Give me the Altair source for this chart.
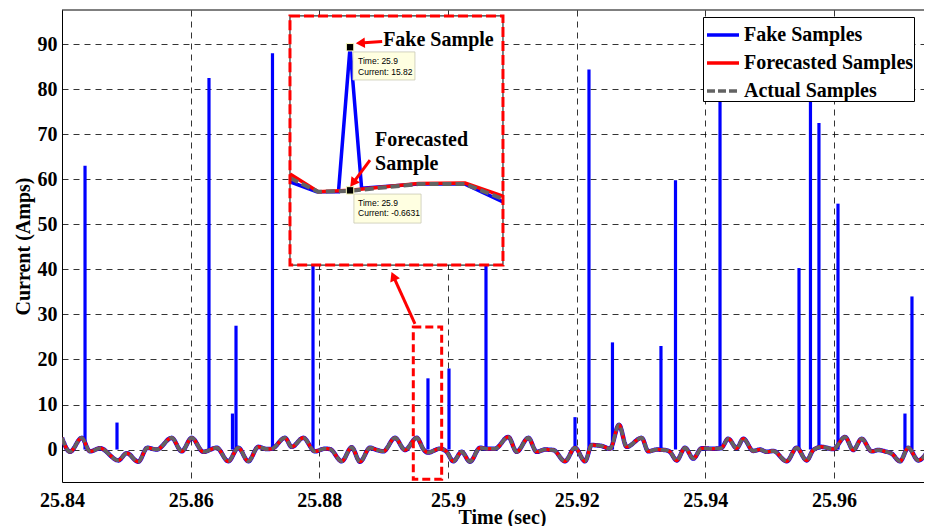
import altair as alt
import pandas as pd

# ---------------- main traces ----------------
base_t = [25.84000, 25.84124, 25.84306, 25.84435, 25.84591, 25.84875, 25.85006, 25.85186,
          25.85326, 25.85472, 25.85705, 25.85861, 25.86016, 25.86197, 25.86405, 25.86585,
          25.86741, 25.86896, 25.87051, 25.87187, 25.87264, 25.87466, 25.87571, 25.87751,
          25.87933, 25.88088, 25.88166, 25.88348, 25.88503, 25.88632, 25.88788, 25.88897,
          25.88995, 25.89176, 25.89332, 25.89514, 25.89627, 25.89689, 25.89876, 25.89980,
          25.90083, 25.90213, 25.90342, 25.90498, 25.90607, 25.90731, 25.90938, 25.91068,
          25.91249, 25.91379, 25.91508, 25.91637, 25.91819, 25.91975, 25.92130, 25.92234,
          25.92390, 25.92519, 25.92659, 25.92778, 25.93011, 25.93114, 25.93245, 25.93374,
          25.93451, 25.93555, 25.93685, 25.93814, 25.93944, 25.94104, 25.94244, 25.94358,
          25.94488, 25.94591, 25.94746, 25.94850, 25.94955, 25.95057, 25.95265, 25.95421,
          25.95576, 25.95679, 25.95809, 25.95990, 25.96172, 25.96301, 25.96431, 25.96587,
          25.96689, 25.96793, 25.96898, 25.97027, 25.97156, 25.97311, 25.97519]
actual_v = [2.6, -0.5, 2.6, -0.4, 0.3, -2.4, -0.8, -2.7, 0.4, 0.0, 2.6, -0.4, 2.6, -0.5, 0.4,
            -2.6, 0.4, -2.6, 0.6, 0.1, 0.2, 2.6, 0.6, 2.6, -0.4, 0.2, 0.1, -2.6, 0.5, -2.7,
            0.4, -0.1, -0.4, 2.6, -0.1, 2.6, -0.1, -0.66, 0.2, -0.5, -2.6, -0.5, -2.7, 0.4,
            0.2, 0.2, 2.8, -0.5, 2.6, -0.5, 0.0, -0.1, -2.6, 0.4, -2.6, 1.0, 0.8, 0.2, 5.5,
            0.6, 2.6, -0.4, 0.0, -0.1, -0.5, -2.4, 0.4, -2.0, 0.3, 0.2, 0.3, 2.4, 0.3, 2.4,
            -0.3, 0.0, -0.5, -0.3, -2.6, 0.4, -2.4, -0.1, 0.6, 0.1, 2.8, -0.1, 2.4, -0.4,
            -0.1, -0.4, -0.9, -2.6, 0.4, -2.4, 1.3]
forecast_v = list(actual_v)
fake_base_v = list(actual_v)

# injected fake samples (spikes)
spike_t = [25.84358, 25.84855, 25.86285, 25.86650, 25.86705, 25.87272, 25.87902, 25.89689,
           25.90016, 25.90591, 25.91975, 25.92192, 25.92557, 25.93311, 25.93537, 25.94229,
           25.95457, 25.95635, 25.95767, 25.96063, 25.97104, 25.97213]
spike_v = [63.0, 6.0, 82.5, 8.0, 27.5, 88.0, 50.0, 15.82, 18.0, 48.0, 7.2, 84.4, 23.8, 23.0,
           59.8, 86.0, 40.3, 85.0, 72.5, 54.6, 8.0, 34.0]

# ---------------- zoomed inset (its own time / current units) ----------------
inset_fake_t = [25.89503, 25.89586, 25.89654, 25.89690, 25.89726, 25.89902, 25.90048, 25.90166]
inset_fake_v = [0.33, -0.82, -0.82, 15.82, -0.43, 0.06, 0.06, -1.98]
inset_fore_t = [25.89503, 25.89591, 25.89690, 25.89902, 25.90048, 25.90166]
inset_fore_v = [1.22, -0.82, -0.6631, 0.14, 0.18, -1.32]
inset_act_t = [25.89503, 25.89591, 25.89690, 25.89902, 25.90048, 25.90166]
inset_act_v = [0.76, -0.82, -0.72, 0.06, 0.06, -1.67]

INSET_T = (25.89503, 25.90166)   # time range shown in the inset
INSET_V = (-9.27, 19.43)         # current range shown in the inset
BOX_T = (25.87544, 25.90855)     # where the inset sits on the main axes
BOX_V = (40.96, 96.29)

def mt(t):
    return BOX_T[0] + (t - INSET_T[0]) / (INSET_T[1] - INSET_T[0]) * (BOX_T[1] - BOX_T[0])

def mv(v):
    return BOX_V[0] + (v - INSET_V[0]) / (INSET_V[1] - INSET_V[0]) * (BOX_V[1] - BOX_V[0])

marker_t = [25.89690, 25.89690]
marker_v = [15.82, -0.6631]
tip_box_t = [(25.89699, 25.89892), (25.89702, 25.89911)]
tip_box_v = [(12.05, 15.28), (-4.43, -1.09)]
tip_text = ["Time: 25.9", "Current: 15.82", "Time: 25.9", "Current: -0.6631"]
tip_text_t = [25.89715, 25.89715, 25.89715, 25.89715]
tip_text_v = [14.27, 13.01, -2.16, -3.31]
note_text = ["Fake Sample", "Forecasted", "Sample"]
note_t = [25.89793, 25.89768, 25.89768]
note_v = [16.70, 5.13, 2.37]
# arrows inside the inset (tail -> head)
arrow_tail_t = [25.89790, 25.89752]
arrow_tail_v = [16.47, 2.83]
arrow_head_t = [25.89722, 25.89699]
arrow_head_v = [16.30, 0.18]
arrow_angle = [267, 217]

# highlight box on the main axes and its arrow to the inset
hl_t = (25.89461, 25.89902)
hl_v = (-6.6, 27.2)
hl_arrow_tail = (25.89487, 27.9)
hl_arrow_head = (25.89150, 38.5)
hl_arrow_angle = 337

series_domain = ["Fake Samples", "Forecasted Samples", "Actual Samples"]
x_ticks = [25.84, 25.86, 25.88, 25.90, 25.92, 25.94, 25.96]
y_ticks = [0, 10, 20, 30, 40, 50, 60, 70, 80, 90]
X_DOMAIN = [25.84, 25.9740]
Y_DOMAIN = [-7.2, 97.6]

# ---------------- encodings ----------------
xs = alt.Scale(domain=X_DOMAIN, nice=False, zero=False)
ys = alt.Scale(domain=Y_DOMAIN, nice=False, zero=False)
xaxis = alt.Axis(title="Time (sec)", values=x_ticks, format=".2~f", labelFlush=False,
                 labelOverlap=False, labelPadding=8, titlePadding=-3, titleX=440)
yaxis = alt.Axis(title="Current (Amps)", values=y_ticks, labelPadding=5, titlePadding=4,
                 labelOverlap=False)
X = alt.X("t:Q", scale=xs, axis=xaxis)
Y = alt.Y("v:Q", scale=ys, axis=yaxis)

leg = alt.Legend(title=None, orient="none", legendX=641, legendY=7, fillColor="white",
                 strokeColor="black", padding=0, symbolOffset=2, symbolType="stroke",
                 symbolSize=1024, symbolStrokeWidth=3.5, labelFont="Liberation Serif",
                 labelFontWeight="bold", labelFontSize=20, labelColor="black", labelOffset=3,
                 rowPadding=-7, labelLimit=400)
color = alt.Color("series:N", scale=alt.Scale(domain=series_domain,
                  range=["#0000FF", "#FF0000", "#636363"]), legend=leg)
dash = alt.StrokeDash("series:N", scale=alt.Scale(domain=series_domain,
                      range=[[1, 0], [1, 0], [8, 3]]), legend=leg)

def series_df(ts, vs, name):
    return pd.DataFrame({"t": ts, "v": vs, "series": name})

fake_df = series_df(base_t, fake_base_v, "Fake Samples")
fore_df = series_df(base_t, forecast_v, "Forecasted Samples")
act_df = series_df(base_t, actual_v, "Actual Samples")
spike_df = pd.DataFrame({"t": spike_t, "v": spike_v})

layers = []
layers.append(alt.Chart(fake_df).mark_line(strokeWidth=4.5, interpolate="monotone", clip=True)
              .encode(x=X, y=Y, color=color, strokeDash=dash))
layers.append(alt.Chart(spike_df).mark_rule(color="#0000FF", strokeWidth=3.2, clip=True)
              .encode(x=X, y=Y, y2=alt.datum(0)))
layers.append(alt.Chart(fore_df).mark_line(strokeWidth=3.5, interpolate="monotone", clip=True)
              .encode(x=X, y=Y, color=color, strokeDash=dash))
layers.append(alt.Chart(act_df).mark_line(strokeWidth=3.5, interpolate="monotone", clip=True)
              .encode(x=X, y=Y, color=color, strokeDash=dash))

# highlight box on main axes
hl_df = pd.DataFrame({"t": [hl_t[0]], "t2": [hl_t[1]], "v": [hl_v[0]], "v2": [hl_v[1]]})
layers.append(alt.Chart(hl_df).mark_rect(fill=None, stroke="#FF0000", strokeWidth=3,
                                          strokeDash=[8, 4])
              .encode(x=X, x2="t2:Q", y=Y, y2="v2:Q"))

# inset box
box_df = pd.DataFrame({"t": [BOX_T[0]], "t2": [BOX_T[1]], "v": [BOX_V[0]], "v2": [BOX_V[1]]})
layers.append(alt.Chart(box_df).mark_rect(fill="white", stroke="black", strokeWidth=1)
              .encode(x=X, x2="t2:Q", y=Y, y2="v2:Q"))

def inset_df(ts, vs):
    return pd.DataFrame({"t": [mt(a) for a in ts], "v": [mv(b) for b in vs]})

layers.append(alt.Chart(inset_df(inset_fake_t, inset_fake_v))
              .mark_line(color="#0000FF", strokeWidth=3.5).encode(x=X, y=Y))
layers.append(alt.Chart(inset_df(inset_fore_t, inset_fore_v))
              .mark_line(color="#FF0000", strokeWidth=3.5).encode(x=X, y=Y))
layers.append(alt.Chart(inset_df(inset_act_t, inset_act_v))
              .mark_line(color="#636363", strokeWidth=4, strokeDash=[9, 4]).encode(x=X, y=Y))

layers.append(alt.Chart(box_df).mark_rect(fill=None, stroke="#FF0000", strokeWidth=3,
                                           strokeDash=[10, 4])
              .encode(x=X, x2="t2:Q", y=Y, y2="v2:Q"))

# data tips
tipbox_df = pd.DataFrame({"t": [mt(a) for a, b in tip_box_t], "t2": [mt(b) for a, b in tip_box_t],
                          "v": [mv(a) for a, b in tip_box_v], "v2": [mv(b) for a, b in tip_box_v]})
layers.append(alt.Chart(tipbox_df).mark_rect(fill="#FFFFE1", stroke="#C8C8B4", strokeWidth=0.8)
              .encode(x=X, x2="t2:Q", y=Y, y2="v2:Q"))
tiptext_df = pd.DataFrame({"t": [mt(a) for a in tip_text_t], "v": [mv(b) for b in tip_text_v],
                           "label": tip_text})
layers.append(alt.Chart(tiptext_df).mark_text(align="left", baseline="middle",
                                               font="Liberation Sans", fontSize=8.5, color="black")
              .encode(x=X, y=Y, text="label:N"))
mark_df = inset_df(marker_t, marker_v)
layers.append(alt.Chart(mark_df).mark_point(shape="square", filled=True, fill="black",
                                             stroke="#FFFFC0", strokeWidth=1, size=55, opacity=1)
              .encode(x=X, y=Y))

# notes
note_df = pd.DataFrame({"t": [mt(a) for a in note_t], "v": [mv(b) for b in note_v],
                        "label": note_text})
layers.append(alt.Chart(note_df).mark_text(align="left", baseline="middle",
                                            font="Liberation Serif", fontWeight="bold",
                                            fontSize=20, color="black")
              .encode(x=X, y=Y, text="label:N"))

# arrows
arr_df = pd.DataFrame({
    "t": [mt(a) for a in arrow_tail_t] + [hl_arrow_tail[0]],
    "v": [mv(b) for b in arrow_tail_v] + [hl_arrow_tail[1]],
    "t2": [mt(a) for a in arrow_head_t] + [hl_arrow_head[0]],
    "v2": [mv(b) for b in arrow_head_v] + [hl_arrow_head[1]],
})
head_df = pd.DataFrame({"t": arr_df["t2"], "v": arr_df["v2"],
                        "ang": arrow_angle + [hl_arrow_angle]})
layers.append(alt.Chart(arr_df).mark_rule(color="#FF0000", strokeWidth=3)
              .encode(x=X, x2="t2:Q", y=Y, y2="v2:Q"))
layers.append(alt.Chart(head_df).mark_point(shape="triangle-up", filled=True, color="#FF0000",
                                             size=110, opacity=1)
              .encode(x=X, y=Y, angle=alt.Angle("ang:Q", scale=None)))

# top frame line of the axes box (right side lies beyond the picture)
top_df = pd.DataFrame({"v": [Y_DOMAIN[1]]})
layers.append(alt.Chart(top_df).mark_rule(color="black", strokeWidth=1).encode(y=Y))

chart = (
    alt.layer(*layers)
    .properties(width=862, height=472, autosize=alt.AutoSizeParams(type="none"),
                padding={"left": 54, "top": 2, "right": 0, "bottom": 44})
    .configure_view(stroke=None)
    .configure_axis(labelFont="Liberation Serif", labelFontWeight="bold", labelFontSize=20,
                    labelColor="black", titleFont="Liberation Serif", titleFontWeight="bold",
                    titleFontSize=20, titleColor="black", grid=True, gridColor="black",
                    gridDash=[6, 5], gridWidth=0.8, gridOpacity=1, domain=True,
                    domainColor="black", domainWidth=1, ticks=False, tickSize=0)
)

chart.save("out.html", embed_options={"renderer": "svg", "actions": False})
